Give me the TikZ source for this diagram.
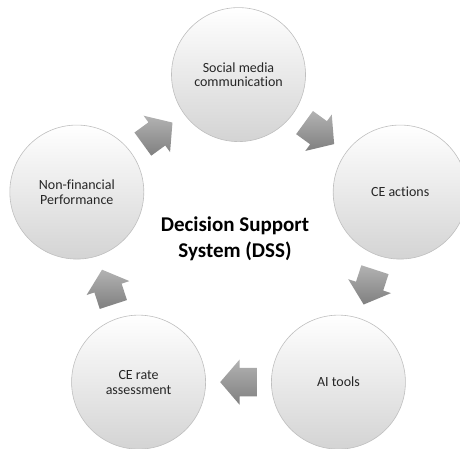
\documentclass[tikz,border=0pt]{standalone}
\usepackage{fontspec}
\setmainfont[Ligatures=NoCommon]{Carlito}
\usetikzlibrary{calc}
\tikzset{
  stage/.style={circle, minimum size=134pt, inner sep=0pt, draw=black!25, line width=0.6pt,
    top color=white, bottom color=black!17, text=black!85, align=center,
    font=\fontsize{14}{14.8}\selectfont},
  cyclearrow/.style={top color=black!30, bottom color=black!50, draw=none},
  hub/.style={align=center, font=\fontsize{21}{26}\selectfont\bfseries, text=black}
}
\newcommand\blockarrow[3]{%
  \path[cyclearrow, shift={($(#1)!0.5!(#2)$)}, rotate=#3]
    (-18.3,-14.3) -- (-1,-14.3) -- (-1,-22.5) -- (18.3,0) -- (-1,22.5) -- (-1,14.3) -- (-18.3,14.3) -- cycle;}
\begin{document}
\begin{tikzpicture}[x=1pt,y=1pt]
  \useasboundingbox (0,0) rectangle (460,449);
  \coordinate (c) at (238.5,204.4);
  \node[stage] (social) at ($(c)+(90:170)$) {Social media\\communication};
  \node[stage] (ce) at ($(c)+(18:170)$) {CE actions};
  \node[stage] (ai) at ($(c)+(-54:170)$) {AI tools};
  \node[stage] (rate) at ($(c)+(-126:170)$) {CE rate\\assessment};
  \node[stage] (nonfin) at ($(c)+(162:170)$) {Non-financial\\Performance};
  \node[hub] (dss) at (235,210.5) {Decision Support\\System (DSS)};
  \blockarrow{social}{ce}{-36}
  \blockarrow{ce}{ai}{-108}
  \blockarrow{ai}{rate}{180}
  \blockarrow{rate}{nonfin}{108}
  \blockarrow{nonfin}{social}{36}
\end{tikzpicture}
\end{document}
